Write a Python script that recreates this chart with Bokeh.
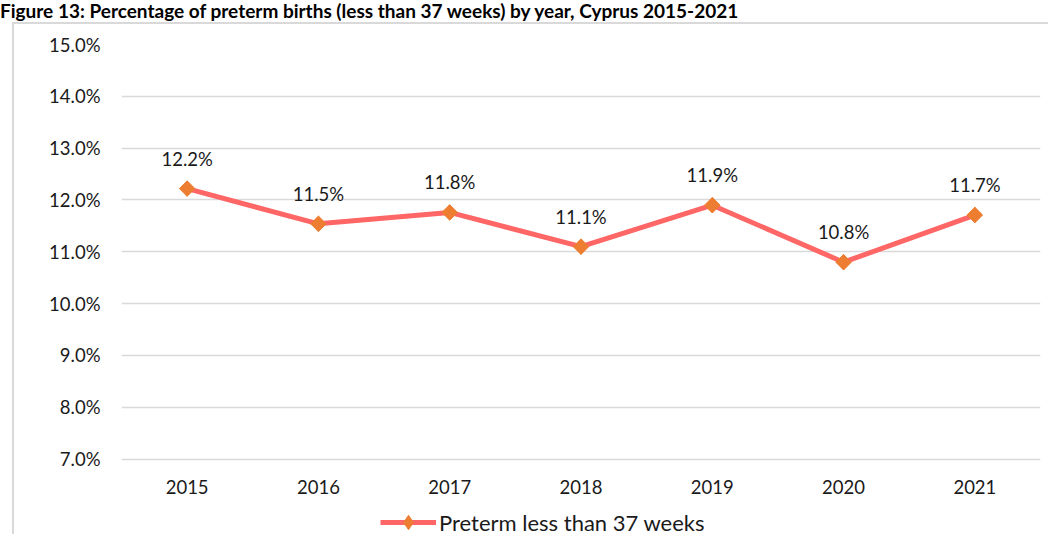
import math
from bokeh.plotting import figure
from bokeh.models import (ColumnDataSource, FixedTicker, PrintfTickFormatter, Legend, LegendItem, Div)
from bokeh.layouts import column
from bokeh.core.properties import value
from bokeh.embed import file_html
from bokeh.resources import INLINE

years = ["2015", "2016", "2017", "2018", "2019", "2020", "2021"]
preterm = [12.22, 11.54, 11.76, 11.10, 11.90, 10.80, 11.71]
point_labels = ["12.2%", "11.5%", "11.8%", "11.1%", "11.9%", "10.8%", "11.7%"]
y_ticks = [7, 8, 9, 10, 11, 12, 13, 14, 15]
title_text = "Figure 13: Percentage of preterm births (less than 37 weeks) by year, Cyprus 2015-2021"
series_name = "Preterm less than 37 weeks"

FONT = "Lato"
Y_TOP = 15
Y_BOTTOM = 5.508          # frame extends below 7% to hold the year labels and the legend
YEAR_LABEL_Y = 6.47       # row of year labels under the 7% gridline

src = ColumnDataSource(dict(x=years, y=preterm, lab=point_labels))
year_src = ColumnDataSource(dict(x=years, y=[YEAR_LABEL_Y] * len(years), lab=years))

p = figure(x_range=years, y_range=(Y_BOTTOM, Y_TOP), frame_width=917, frame_height=490,
           output_backend="svg", toolbar_location=None,
           min_border_left=107, min_border_right=10, min_border_top=20, min_border_bottom=0,
           margin=(0, 0, 0, 12))
p.styles = {"border-left": "2px solid #D9D9D9", "border-top": "2px solid #D9D9D9"}
p.background_fill_color = "white"
p.border_fill_color = "white"
p.outline_line_color = None

p.xgrid.grid_line_color = None
p.ygrid.grid_line_color = "#D9D9D9"
p.ygrid.grid_line_width = 1.5
p.yaxis.ticker = FixedTicker(ticks=y_ticks)
p.yaxis.formatter = PrintfTickFormatter(format="%.1f%%")
p.yaxis.axis_line_color = None
p.yaxis.major_tick_line_color = None
p.yaxis.minor_tick_line_color = None
p.yaxis.major_label_text_font = FONT
p.yaxis.major_label_text_font_size = "18.5px"
p.yaxis.major_label_text_color = "#1a1a1a"
p.yaxis.major_label_standoff = 15
p.xaxis.visible = False

p.text("x", "y", text="lab", source=year_src, text_align="center", text_baseline="middle",
       text_font=value(FONT), text_font_size="18.5px", text_color="#1a1a1a")

ln = p.line("x", "y", source=src, line_color="#FF6666", line_width=5)
mk_leg = p.scatter("x", "y", source=src, marker="diamond", size=15,
                   fill_color="#ED7D31", line_color="#ED7D31")
mk = p.scatter("x", "y", source=src, marker="square", angle=math.pi / 4, size=11,
               fill_color="#ED7D31", line_color="#ED7D31")
p.text("x", "y", text="lab", source=src, text_align="center", text_baseline="middle",
       y_offset=-30, text_font=value(FONT), text_font_size="18.5px", text_color="#1a1a1a")

legend = Legend(items=[LegendItem(label=series_name, renderers=[ln, mk_leg])],
                orientation="horizontal", location=(259, -4),
                label_text_font=FONT, label_text_font_size="22px", label_text_color="#1a1a1a",
                glyph_width=56, glyph_height=36, border_line_color=None,
                background_fill_alpha=0, padding=0, margin=0, spacing=0, label_standoff=3)
p.add_layout(legend, "center")

title = Div(text=title_text, width=1040, height=22, margin=(0, 0, 0, 0),
            styles={"font-family": FONT, "font-weight": "bold", "font-size": "19px",
                    "line-height": "21px", "white-space": "nowrap", "overflow": "hidden",
                    "color": "#000000"})

layout = column(title, p, spacing=0)
open("out.html", "w").write(file_html(layout, INLINE))
